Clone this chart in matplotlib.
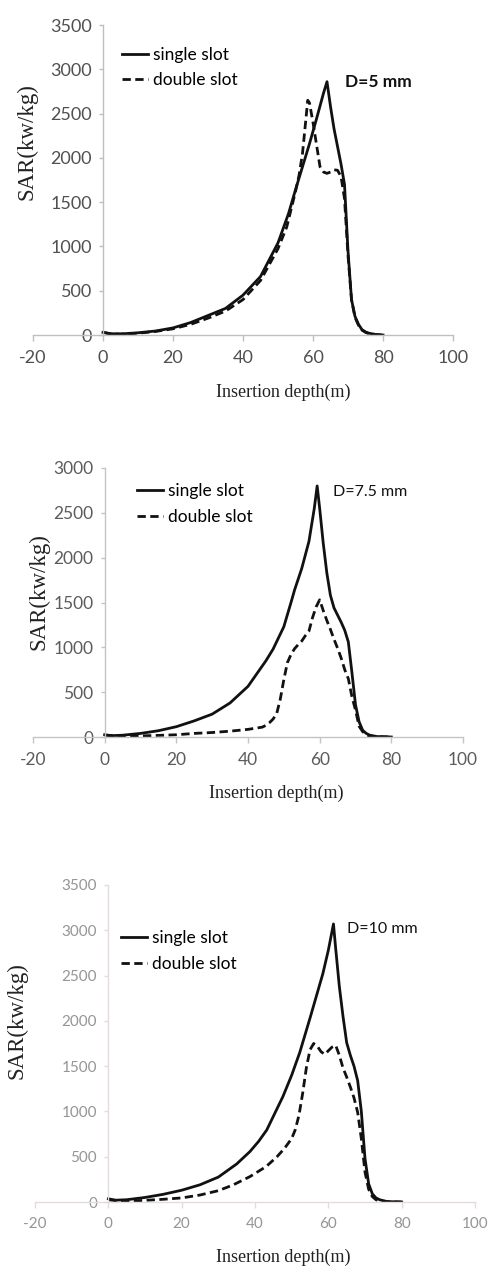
import matplotlib
matplotlib.use("Agg")
import matplotlib.pyplot as plt

plt.rcParams["axes.unicode_minus"] = False

# --- data ---
depth_5_single = [0, 2, 5, 10, 15, 20, 25, 30, 35, 40, 45, 50, 53, 55, 57, 59, 61, 63, 64, 65, 66, 67, 68, 69, 70, 71, 72, 73, 74, 75, 76, 78, 80]
sar_5_single = [30, 15, 12, 25, 45, 80, 140, 220, 300, 450, 660, 1040, 1370, 1640, 1900, 2160, 2440, 2730, 2860, 2580, 2330, 2130, 1930, 1700, 950, 400, 210, 120, 60, 35, 20, 5, 0]
depth_5_double = [0, 2, 5, 10, 15, 20, 25, 30, 35, 40, 45, 50, 52.5, 55, 56, 57, 58, 58.5, 59, 60, 61, 62, 63, 64, 65, 66, 67, 68, 69, 70, 71, 72, 73, 74, 75, 76, 78, 80]
sar_5_double = [30, 15, 10, 20, 40, 70, 120, 190, 270, 400, 615, 975, 1220, 1620, 1800, 2050, 2450, 2650, 2620, 2400, 2150, 1900, 1840, 1825, 1840, 1865, 1860, 1790, 1540, 900, 400, 200, 110, 55, 30, 15, 4, 0]

depth_75_single = [0, 2, 5, 10, 15, 20, 25, 30, 35, 40, 45, 47, 50, 52, 53, 55, 57, 58.5, 59.3, 60, 61, 62, 63, 64, 65, 66, 67, 68, 69, 70, 71, 72, 73, 74, 76, 80]
sar_75_single = [25, 15, 20, 40, 70, 115, 180, 255, 380, 565, 850, 980, 1230, 1500, 1640, 1880, 2180, 2550, 2800, 2550, 2160, 1830, 1580, 1440, 1360, 1280, 1190, 1060, 720, 360, 170, 75, 40, 20, 5, 0]
depth_75_double = [0, 5, 10, 15, 20, 25, 30, 35, 40, 44, 45, 46, 47, 48, 49, 50, 51, 52, 53, 54, 55, 56, 57, 58, 59, 60, 61, 62, 63, 64, 65, 66, 67, 68, 69, 70, 71, 72, 73, 74, 76, 80]
sar_75_double = [20, 8, 12, 18, 25, 40, 50, 65, 85, 110, 130, 160, 200, 260, 420, 640, 830, 920, 985, 1030, 1070, 1130, 1180, 1330, 1450, 1530, 1410, 1300, 1200, 1090, 990, 880, 750, 650, 450, 300, 120, 60, 25, 10, 3, 0]

depth_10_single = [0, 2, 5, 10, 15, 20, 25, 30, 35, 38.6, 41, 43.2, 47.6, 50, 52.2, 55, 58.5, 60, 61.4, 62, 63, 64, 65, 66, 67, 68, 69, 70, 71, 72, 73, 74, 76, 80]
sar_10_single = [35, 20, 25, 50, 85, 130, 190, 275, 420, 556, 670, 795, 1163, 1400, 1650, 2030, 2520, 2780, 3070, 2800, 2380, 2050, 1760, 1620, 1500, 1340, 1000, 480, 200, 90, 45, 25, 5, 0]
depth_10_double = [0, 2, 5, 10, 15, 20, 25, 30, 34, 38.6, 43, 46, 48, 50, 51, 52, 53, 54, 55, 56, 57, 58, 59, 60, 61, 62, 63, 64, 65, 66, 67, 68, 69, 70, 71, 72, 73, 74, 76, 80]
sar_10_double = [25, 15, 10, 18, 30, 45, 77, 125, 188, 280, 390, 500, 590, 700, 800, 960, 1200, 1480, 1680, 1750, 1720, 1660, 1630, 1670, 1710, 1730, 1620, 1480, 1380, 1270, 1150, 990, 700, 330, 140, 60, 25, 10, 3, 0]

legend_labels = ["single slot", "double slot"]
panel_titles = ["D=5 mm", "D=7.5 mm", "D=10 mm"]
y_tops = [3500, 3000, 3500]
x_ticks = [-20, 0, 20, 40, 60, 80, 100]

W, H = 490, 1268
sans = "Lato"
serif = "Liberation Serif"

fig = plt.figure(figsize=(W / 100, H / 100), dpi=100)

# pixel boxes (left, right, top, bottom)
boxes = [(33, 453, 25, 335), (33, 463, 468, 737), (35, 475, 885, 1202)]
spine_cols = ["#bfbfbf", "#c4c4c4", "#e3dbe0"]
tick_cols = ["#505050", "#5c5c5c", "#959595"]
tick_sizes = [13, 12.5, 11]
leg_sizes = [12.5, 12.5, 12.5]
leg_pos = [(122, 67.5), (137, 504), (121, 951)]
note_pos = [(345, 82), (333, 492), (347, 929)]
note_style = [dict(fontweight="bold", fontsize=12.5),
              dict(fontsize=11.5),
              dict(fontsize=11.5)]
ylab_pos = [(27, 142), (39, 592), (17, 1021)]
xlab_pos = [(283, 392), (276, 793), (283, 1257)]

series = [
    (depth_5_single, sar_5_single, depth_5_double, sar_5_double),
    (depth_75_single, sar_75_single, depth_75_double, sar_75_double),
    (depth_10_single, sar_10_single, depth_10_double, sar_10_double),
]

for i, (xs, ys, xd, yd) in enumerate(series):
    l, r, t, b = boxes[i]
    ax = fig.add_axes([l / W, 1 - b / H, (r - l) / W, (b - t) / H])
    ax.plot(xs, ys, color="#111111", lw=2.0, solid_joinstyle="round", label=legend_labels[0])
    ax.plot(xd, yd, color="#111111", lw=2.0, linestyle=(0, (3, 1.6)), label=legend_labels[1])
    ax.set_xlim(-20, 100)
    ax.set_ylim(0, y_tops[i])
    ax.set_xticks(x_ticks)
    ax.set_yticks(range(0, y_tops[i] + 1, 500))

    for s in ["top", "right"]:
        ax.spines[s].set_visible(False)
    ax.spines["left"].set_position(("data", 0))
    for s in ["left", "bottom"]:
        ax.spines[s].set_color(spine_cols[i])
        ax.spines[s].set_linewidth(1.0)
    ax.tick_params(axis="x", direction="out", length=4, width=1, color=spine_cols[i],
                   labelcolor=tick_cols[i], labelsize=tick_sizes[i], pad=7)
    ax.tick_params(axis="y", direction="out", length=3, width=1, color=spine_cols[i],
                   labelcolor=tick_cols[i], labelsize=tick_sizes[i], pad=5)
    for lab in ax.get_xticklabels() + ax.get_yticklabels():
        lab.set_family(sans)
    ax.patch.set_alpha(0)

    ax.legend(loc="center left", bbox_to_anchor=(leg_pos[i][0] / W, 1 - leg_pos[i][1] / H),
              bbox_transform=fig.transFigure, frameon=False, borderpad=0, borderaxespad=0,
              handlelength=1.5, handletextpad=0.3, labelspacing=0.55,
              prop={"family": sans, "size": leg_sizes[i]})

    fig.text(note_pos[i][0] / W, 1 - note_pos[i][1] / H, panel_titles[i], ha="left", va="center",
             color="#111111", family=sans, **note_style[i])
    fig.text(ylab_pos[i][0] / W, 1 - ylab_pos[i][1] / H, "SAR(kw/kg)", rotation=90, ha="center",
             va="center", family=serif, fontsize=16.5, color="#222222")
    fig.text(xlab_pos[i][0] / W, 1 - xlab_pos[i][1] / H, "Insertion depth(m)", ha="center",
             va="center", family=serif, fontsize=13, color="#222222")

fig.savefig("out.png", dpi=100)
